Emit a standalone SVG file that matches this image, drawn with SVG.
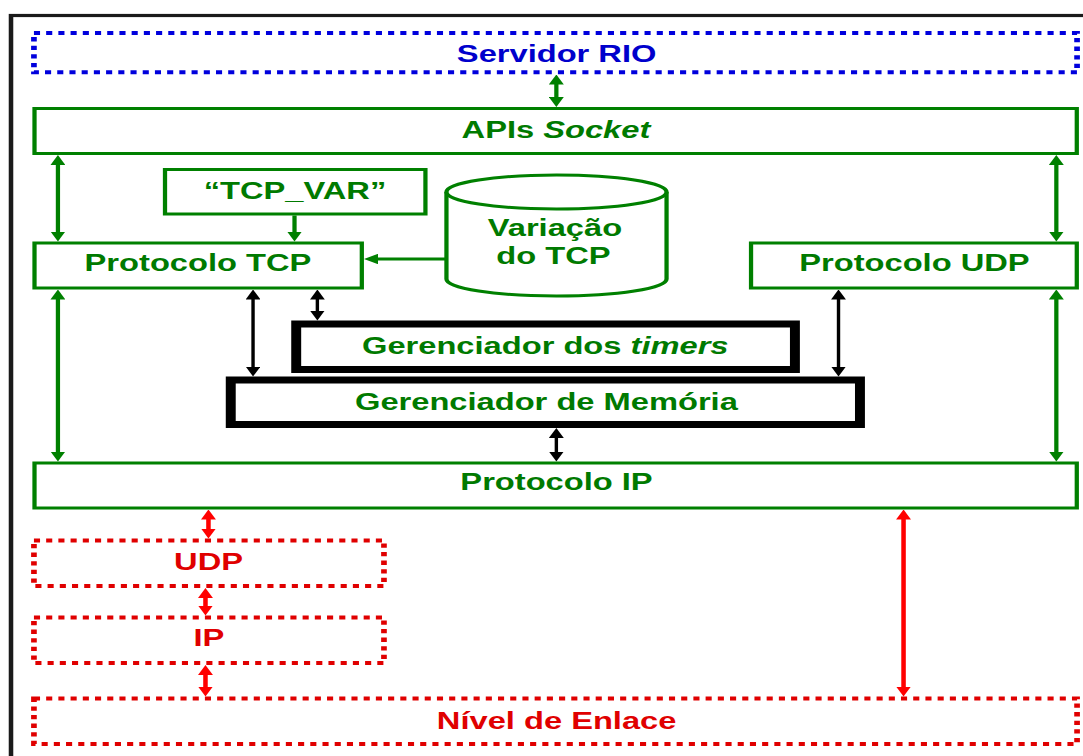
<svg xmlns="http://www.w3.org/2000/svg" width="1083" height="756" viewBox="0 0 1083 756">
  <defs>
    <style>
      .lbl { font-family: "Liberation Sans", Arial, sans-serif; font-weight: bold; font-size: 23px; text-anchor: middle; }
      .g-txt { fill: #007a00; }
      .b-txt { fill: #0000cc; }
      .r-txt { fill: #e00000; }
      .g-box { fill: #ffffff; stroke: #008000; stroke-width: 3; }
      .k-box { fill: #ffffff; stroke: #000000; stroke-width: 7; }
      .b-dot { fill: none; stroke: #0000dd; stroke-width: 4; stroke-dasharray: 4.3 4.3; }
      .r-dot { fill: none; stroke: #e00000; stroke-width: 4; stroke-dasharray: 4.3 4.3; }
      .g-arr { fill: none; stroke: #008000; stroke-width: 3; }
      .k-arr { fill: none; stroke: #000000; stroke-width: 2.4; }
      .r-arr { fill: none; stroke: #ff0000; stroke-width: 3.2; }
    </style>
    <marker id="hg" viewBox="0 0 10 10.5" refX="6" refY="5.25" markerWidth="10" markerHeight="10.5" markerUnits="userSpaceOnUse" orient="auto-start-reverse">
      <path d="M0,0 L10,5.25 L0,10.5 Z" fill="#008000"/>
    </marker>
    <marker id="hk" viewBox="0 0 10 10.5" refX="6" refY="5.25" markerWidth="10" markerHeight="10.5" markerUnits="userSpaceOnUse" orient="auto-start-reverse">
      <path d="M0,0 L10,5.25 L0,10.5 Z" fill="#000000"/>
    </marker>
    <marker id="hr" viewBox="0 0 10 10.5" refX="6" refY="5.25" markerWidth="10" markerHeight="10.5" markerUnits="userSpaceOnUse" orient="auto-start-reverse">
      <path d="M0,0 L10,5.25 L0,10.5 Z" fill="#ff0000"/>
    </marker>
  </defs>

  <rect x="0" y="0" width="1083" height="756" fill="#ffffff"/>

  <!-- the whole layout is drawn in a narrow frame and widened horizontally -->
  <g transform="scale(1.42 1)">
    <!-- outer frame -->
    <rect id="frame" x="7.75" y="15.5" width="800" height="800" fill="none" stroke="#1a1a1a" stroke-width="3.2"/>

    <!-- connectors -->
    <g id="connectors">
      <path class="g-arr" d="M391.8,78.5 V103" marker-start="url(#hg)" marker-end="url(#hg)"/>
      <path class="g-arr" d="M40.8,159 V237.5" marker-start="url(#hg)" marker-end="url(#hg)"/>
      <path class="g-arr" d="M743.9,159 V237.5" marker-start="url(#hg)" marker-end="url(#hg)"/>
      <path class="g-arr" d="M207.4,215.5 V237.5" marker-end="url(#hg)"/>
      <path class="g-arr" d="M314.4,259 H260.3" marker-end="url(#hg)"/>
      <path class="g-arr" d="M40.8,293.5 V457.5" marker-start="url(#hg)" marker-end="url(#hg)"/>
      <path class="g-arr" d="M743.9,293.5 V457.5" marker-start="url(#hg)" marker-end="url(#hg)"/>
      <path class="k-arr" d="M178.2,293.5 V372.5" marker-start="url(#hk)" marker-end="url(#hk)"/>
      <path class="k-arr" d="M223.5,293.5 V316.5" marker-start="url(#hk)" marker-end="url(#hk)"/>
      <path class="k-arr" d="M590.5,293.5 V372.5" marker-start="url(#hk)" marker-end="url(#hk)"/>
      <path class="k-arr" d="M391.8,432 V457.5" marker-start="url(#hk)" marker-end="url(#hk)"/>
      <path class="r-arr" d="M146.8,513.5 V534.5" marker-start="url(#hr)" marker-end="url(#hr)"/>
      <path class="r-arr" d="M144.7,592 V611.5" marker-start="url(#hr)" marker-end="url(#hr)"/>
      <path class="r-arr" d="M144.7,669 V692.5" marker-start="url(#hr)" marker-end="url(#hr)"/>
      <path class="r-arr" d="M636.3,513.5 V692.5" marker-start="url(#hr)" marker-end="url(#hr)"/>
    </g>

    <!-- nodes -->
    <g id="servidor-rio">
      <rect class="b-dot" x="23.9" y="33" width="734.6" height="39.3"/>
      <text class="lbl b-txt" x="392" y="62">Servidor RIO</text>
    </g>

    <g id="apis-socket">
      <rect class="g-box" x="24.3" y="108.5" width="734" height="45"/>
      <text class="lbl g-txt" x="391.5" y="138.5">APIs <tspan font-style="italic">Socket</tspan></text>
    </g>

    <g id="tcp-var">
      <rect class="g-box" x="116.2" y="169.5" width="183.4" height="44.5"/>
      <text class="lbl g-txt" x="207.7" y="199">“TCP_VAR”</text>
    </g>

    <g id="variacao-tcp">
      <path class="g-box" d="M314.4,192 V279 A77.5,17 0 0 0 469.4,279 V192"/>
      <ellipse class="g-box" cx="391.9" cy="192" rx="77.5" ry="17"/>
      <text class="lbl g-txt" x="390.8" y="236">Variação</text>
      <text class="lbl g-txt" x="389.7" y="264">do TCP</text>
    </g>

    <g id="protocolo-tcp">
      <rect class="g-box" x="24.3" y="243" width="230.5" height="45"/>
      <text class="lbl g-txt" x="139.4" y="271.5">Protocolo TCP</text>
    </g>

    <g id="protocolo-udp">
      <rect class="g-box" x="528.9" y="243" width="229.4" height="45"/>
      <text class="lbl g-txt" x="644" y="271.5">Protocolo UDP</text>
    </g>

    <g id="gerenciador-timers">
      <rect class="k-box" x="208.6" y="324" width="351.2" height="45.5"/>
      <text class="lbl g-txt" x="384" y="354">Gerenciador dos <tspan font-style="italic">timers</tspan></text>
    </g>

    <g id="gerenciador-memoria">
      <rect class="k-box" x="162.5" y="380" width="443.1" height="44.5"/>
      <text class="lbl g-txt" x="384.8" y="410">Gerenciador de Memória</text>
    </g>

    <g id="protocolo-ip">
      <rect class="g-box" x="24.3" y="463" width="734" height="45"/>
      <text class="lbl g-txt" x="391.9" y="490.5">Protocolo IP</text>
    </g>

    <g id="udp">
      <rect class="r-dot" x="23.9" y="540.5" width="246.5" height="45.5"/>
      <text class="lbl r-txt" x="146.9" y="570.5">UDP</text>
    </g>

    <g id="ip">
      <rect class="r-dot" x="23.9" y="617.5" width="246.5" height="45.5"/>
      <text class="lbl r-txt" x="147.1" y="646.5">IP</text>
    </g>

    <g id="nivel-enlace">
      <rect class="r-dot" x="23.9" y="698.5" width="734.6" height="45.5"/>
      <text class="lbl r-txt" x="392" y="729">Nível de Enlace</text>
    </g>
  </g>
</svg>
